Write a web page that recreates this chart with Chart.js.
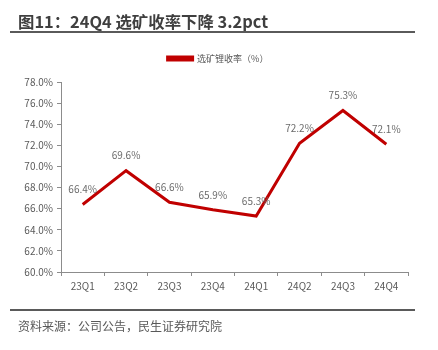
<!DOCTYPE html>
<html>
<head>
<meta charset="utf-8">
<script src="https://cdn.jsdelivr.net/npm/chart.js@4"></script>
<style>
  body { margin: 0; background: #fff; }
  #wrap { position: relative; width: 438px; height: 350px; font-family: "Noto Sans CJK SC", "Noto Sans", sans-serif; }
  #chart { position: absolute; left: 0; top: 0; }
  .title { position: absolute; left: 18px; top: 9px; font-size: 16.4px; font-weight: bold; color: #3f3f3f; white-space: nowrap; }
  .rule { position: absolute; left: 10px; width: 405px; height: 2px; background: #5a5a5a; }
  .source { position: absolute; left: 18px; top: 317px; font-size: 12px; color: #595959; white-space: nowrap; }
</style>
</head>
<body>
<div id="wrap">
  <canvas id="chart" width="438" height="350"></canvas>
  <div class="title">图11：24Q4 选矿收率下降 3.2pct</div>
  <div class="rule" style="top:31px"></div>
  <div class="rule" style="top:309px"></div>
  <div class="source">资料来源：公司公告，民生证券研究院</div>
</div>
<script>
const quarters = ['23Q1', '23Q2', '23Q3', '23Q4', '24Q1', '24Q2', '24Q3', '24Q4'];
const recoveryRate = [66.4, 69.6, 66.6, 65.9, 65.3, 72.2, 75.3, 72.1];
const seriesName = '选矿锂收率（%）';
const yMin = 60, yMax = 78, yStep = 2;

const axisGrey = '#8c8c8c';
const textGrey = '#595959';
const fontFamily = '"Noto Sans CJK SC", "Noto Sans", sans-serif';

// draw value labels above each point
const valueLabels = {
    id: 'valueLabels',
    afterDatasetsDraw(chart) {
        const ctx = chart.ctx;
        const meta = chart.getDatasetMeta(0);
        ctx.save();
        ctx.font = '10px ' + fontFamily;
        ctx.fillStyle = '#6b6b6b';
        ctx.textAlign = 'center';
        ctx.textBaseline = 'middle';
        meta.data.forEach((pt, i) => {
            ctx.fillText(recoveryRate[i].toFixed(1) + '%', pt.x, pt.y - 15);
        });
        ctx.restore();
    }
};

// legend sits a bit right of the plot centre and has extra room below it
const legendTweak = {
    id: 'legendTweak',
    beforeLayout(chart) {
        const lg = chart.legend;
        if (lg && !lg._tweaked) {
            const fit = lg.fit.bind(lg);
            lg.fit = function () { fit(); this.height += 9; };
            lg._tweaked = true;
        }
    },
    afterLayout(chart) {
        if (chart.legend) {
            chart.legend.left += 14;
            chart.legend.right += 14;
        }
    }
};

new Chart(document.getElementById('chart').getContext('2d'), {
    type: 'line',
    data: {
        labels: quarters,
        datasets: [{
            label: seriesName,
            data: recoveryRate,
            borderColor: '#c00000',
            backgroundColor: '#c00000',
            borderWidth: 3,
            pointRadius: 0,
            tension: 0,
            fill: false
        }]
    },
    options: {
        responsive: false,
        animation: false,
        layout: { padding: { left: 0, right: 30, top: 35, bottom: 54 } },
        plugins: {
            legend: {
                position: 'top',
                labels: {
                    boxWidth: 25,
                    boxHeight: 3,
                    padding: 19,
                    color: textGrey,
                    font: { family: fontFamily, size: 9 }
                }
            },
            tooltip: { enabled: false }
        },
        scales: {
            x: {
                offset: true,
                grid: { display: true, offset: true, drawOnChartArea: false, drawTicks: true, tickLength: 4, color: axisGrey },
                border: { display: true, color: axisGrey, width: 1 },
                ticks: { color: textGrey, font: { family: fontFamily, size: 10 }, padding: 4, maxRotation: 0 },
                afterFit(scale) { scale.height = 24; }
            },
            y: {
                min: yMin,
                max: yMax,
                grid: { display: true, drawOnChartArea: false, drawTicks: true, tickLength: 4, color: axisGrey },
                border: { display: true, color: axisGrey, width: 1 },
                ticks: {
                    stepSize: yStep,
                    color: textGrey,
                    font: { family: fontFamily, size: 10 },
                    padding: 4,
                    callback: v => v.toFixed(1) + '%'
                },
                afterFit(scale) { scale.width = 61; }
            }
        }
    },
    plugins: [valueLabels, legendTweak]
});
</script>
</body>
</html>
